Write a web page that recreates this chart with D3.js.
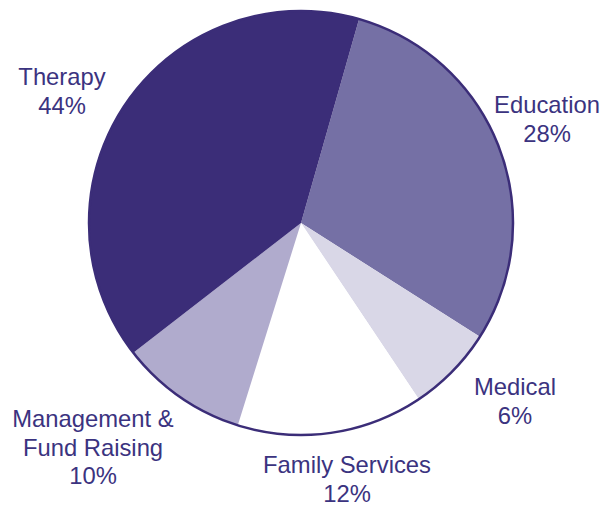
<!DOCTYPE html>
<html>
<head>
<meta charset="utf-8">
<script src="https://cdn.jsdelivr.net/npm/d3@7"></script>
<style>
  body { margin: 0; background: #fff; }
  text { font-family: "Liberation Sans", Arial, sans-serif; }
</style>
</head>
<body>
<div class="canvas"></div>
<script>
/**
 * Data
 */
const categories = ["Education", "Medical", "Family Services", "Management & Fund Raising", "Therapy"]
// slice sizes as drawn in the picture (share of the circle, %)
const shares = [29.6, 6.6, 14.2, 9.7, 39.9]
// printed percentage labels
const percentLabels = ["28%", "6%", "12%", "10%", "44%"]
const labelLines = [["Education"], ["Medical"], ["Family Services"], ["Management &", "Fund Raising"], ["Therapy"]]

/**
 * Dimensions
 */
const width = 616
const height = 506
const cx = 301
const cy = 223
const radius = 212

const colors = {
    "Education": "#7570a5",
    "Medical": "#d9d7e7",
    "Family Services": "#ffffff",
    "Management & Fund Raising": "#b0abcd",
    "Therapy": "#3b2d78"
}

// label anchors (first baseline), relative to page
const labelPos = {
    "Education": [547, 113],
    "Medical": [515, 395],
    "Family Services": [347, 473],
    "Management & Fund Raising": [93, 427],
    "Therapy": [62, 85]
}
const lineHeight = 28.5

const svg = d3.select(".canvas")
    .append("svg")
    .attr("width", width)
    .attr("height", height)

const graph = svg.append("g")
    .attr("transform", `translate(${cx},${cy})`)

const start = 15.9 * Math.PI / 180
const pie = d3.pie()
    .sort(null)
    .value(d => d.share)
    .startAngle(start)
    .endAngle(start + 2 * Math.PI)

const arc = d3.arc().innerRadius(0).outerRadius(radius)

const data = categories.map((c, i) => ({name: c, share: shares[i], pct: percentLabels[i], lines: labelLines[i]}))

graph.selectAll("path.slice")
    .data(pie(data))
    .enter()
    .append("path")
        .attr("class", "slice")
        .attr("d", arc)
        .attr("fill", d => colors[d.data.name])

// outline
graph.append("circle")
    .attr("r", radius)
    .attr("fill", "none")
    .attr("stroke", "#3b2d78")
    .attr("stroke-width", 2.5)

// labels
const labels = svg.selectAll("text.label")
    .data(data)
    .enter()
    .append("text")
        .attr("class", "label")
        .attr("text-anchor", "middle")
        .attr("fill", "#3b3380")
        .style("font-size", "23.8px")

labels.each(function(d) {
    const [x, y] = labelPos[d.name]
    const t = d3.select(this)
    d.lines.concat([d.pct]).forEach((line, i) => {
        t.append("tspan")
            .attr("x", x)
            .attr("y", y + i * lineHeight)
            .text(line)
    })
})
</script>
</body>
</html>
